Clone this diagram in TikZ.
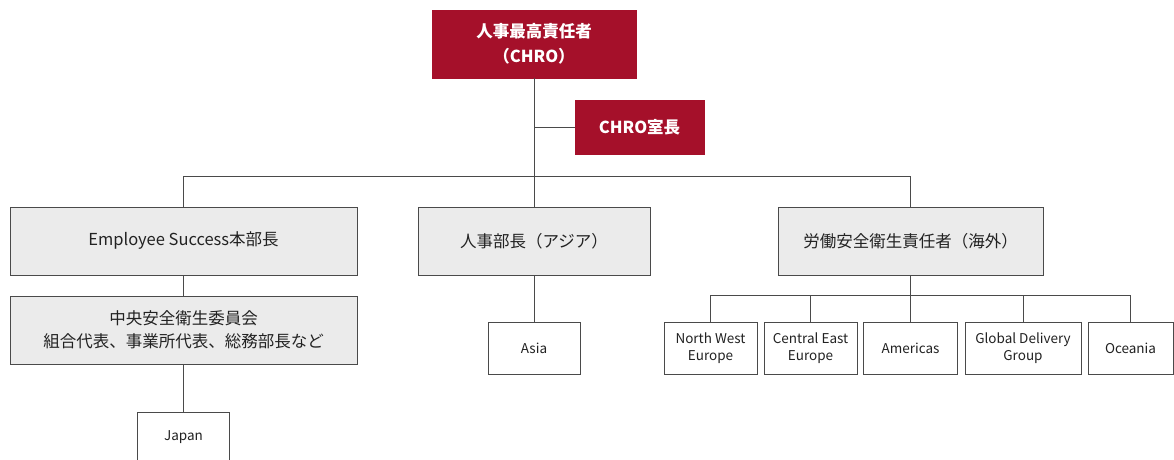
\documentclass[tikz,border=0pt]{standalone}
\usepackage{fontspec}
\setmainfont{Noto Sans CJK JP}
\definecolor{chrored}{HTML}{A5102A}
\definecolor{boxgray}{HTML}{EBEBEB}
\definecolor{linegray}{HTML}{4A4A4A}
\definecolor{txt}{HTML}{222222}
\begin{document}
\begin{tikzpicture}[x=1pt,y=-1pt,
  redbox/.style={draw=chrored,fill=chrored,text=white,inner sep=0pt,align=center,font=\fontsize{16.5}{25}\selectfont\bfseries},
  graybox/.style={draw=linegray,line width=0.9pt,fill=boxgray,text=txt,inner sep=0pt,align=center,font=\fontsize{16.5}{23}\selectfont},
  leafbox/.style={draw=linegray,line width=0.9pt,fill=white,text=txt,inner sep=0pt,align=center,minimum height=52pt,font=\fontsize{13.5}{17}\selectfont},
  conn/.style={draw=linegray,line width=1pt}]
\useasboundingbox (0,0) rectangle (1174,459);
% nodes
\node[redbox,minimum width=204pt,minimum height=68pt] (chro) at (534,44) {人事最高責任者\\（CHRO）};
\node[redbox,minimum width=129pt,minimum height=54pt] (shitsu) at (639.5,127) {CHRO室長};
\node[graybox,minimum width=347pt,minimum height=68pt] (es) at (183.5,241) {Employee Success本部長};
\node[graybox,minimum width=232pt,minimum height=68pt] (hra) at (534,241) {人事部長（アジア）};
\node[graybox,minimum width=265pt,minimum height=68pt] (ovs) at (910.5,241) {労働安全衛生責任者（海外）};
\node[graybox,minimum width=347pt,minimum height=68pt] (comm) at (183.5,330) {中央安全衛生委員会\\組合代表、事業所代表、総務部長など};
\node[leafbox,minimum width=92pt,minimum height=50pt] (japan) at (183.5,437) {Japan};
\node[leafbox,minimum width=92pt] (asia) at (534,348) {Asia};
\node[leafbox,minimum width=93pt] (nwe) at (710.5,348) {North West\\Europe};
\node[leafbox,minimum width=93pt] (cee) at (810.5,348) {Central East\\Europe};
\node[leafbox,minimum width=94pt] (amer) at (910.5,348) {Americas};
\node[leafbox,minimum width=116pt] (gdg) at (1023,348) {Global Delivery\\Group};
\node[leafbox,minimum width=85pt] (oce) at (1130.5,348) {Oceania};
% bus coordinates
\coordinate (bus) at (534,176);
\coordinate (sub) at (910.5,295);
% connectors
\draw[conn] (chro.south) -- (chro.south |- bus);
\draw[conn] (chro.south |- shitsu.west) -- (shitsu.west);
\draw[conn] (es.north |- bus) -- (ovs.north |- bus);
\draw[conn] (es.north |- bus) -- (es.north);
\draw[conn] (hra.north |- bus) -- (hra.north);
\draw[conn] (ovs.north |- bus) -- (ovs.north);
\draw[conn] (es.south) -- (comm.north);
\draw[conn] (comm.south) -- (japan.north);
\draw[conn] (hra.south) -- (asia.north);
\draw[conn] (ovs.south) -- (sub);
\draw[conn] (nwe.north |- sub) -- (oce.north |- sub);
\foreach \n in {nwe,cee,amer,gdg,oce}
  \draw[conn] (\n.north |- sub) -- (\n.north);
\end{tikzpicture}
\end{document}
